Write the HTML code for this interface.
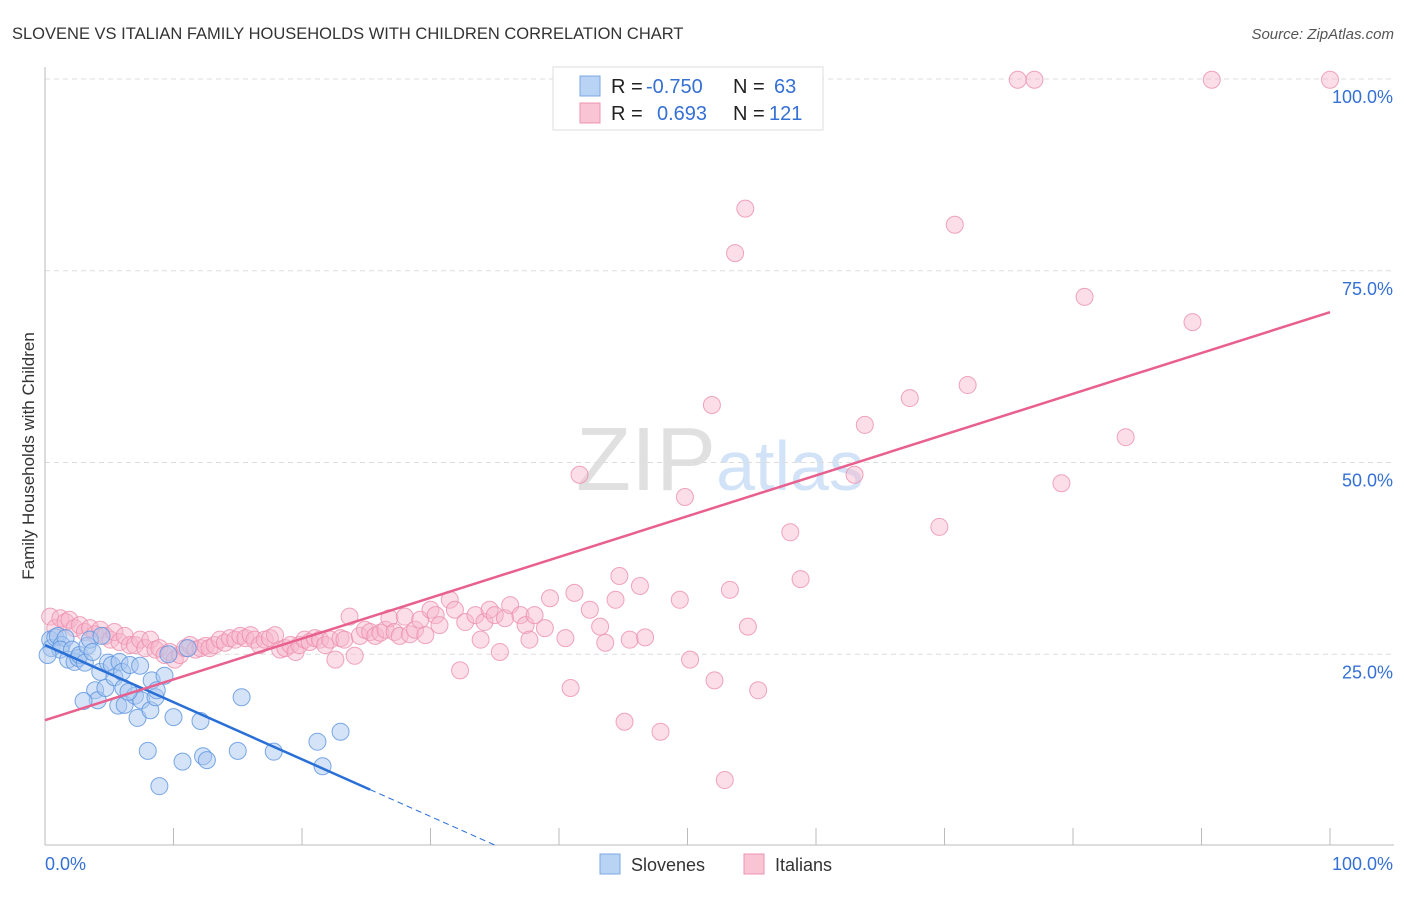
<!DOCTYPE html>
<html><head><meta charset="utf-8"><style>
body{margin:0;background:#fff;font-family:"Liberation Sans",sans-serif;}
svg text{font-family:"Liberation Sans",sans-serif;}
</style></head><body>
<svg id="chart" width="1406" height="892" xmlns="http://www.w3.org/2000/svg">
<text x="12" y="39" font-size="16.5" fill="#333">SLOVENE VS ITALIAN FAMILY HOUSEHOLDS WITH CHILDREN CORRELATION CHART</text>
<text x="1394" y="39" font-size="15" fill="#555" text-anchor="end" font-style="italic">Source: ZipAtlas.com</text>
<text x="720" y="490" font-size="90" text-anchor="middle" fill="#000" fill-opacity="0.12" font-family="Liberation Serif">ZIP<tspan fill="#7fb0ea" fill-opacity="0.35" font-family="Liberation Sans" font-size="70">atlas</tspan></text>
<g id="grid"></g>
<g id="axes"></g>
<g id="marks"></g>
<text transform="translate(34,456) rotate(-90)" font-size="17" fill="#333" text-anchor="middle">Family Households with Children</text>
<g>
<rect x="553" y="67" width="270" height="63" fill="#fff" stroke="#ddd"/>
<rect x="580" y="76" width="20" height="20" fill="#b9d3f4" stroke="#7aa7e6"/>
<rect x="580" y="103" width="20" height="20" fill="#f9c4d4" stroke="#ec94b0"/>
<text x="611" y="93" font-size="20" fill="#222">R = <tspan fill="#3570d4" x="646">-0.750</tspan><tspan x="733" fill="#222">N = </tspan><tspan x="774" fill="#3570d4">63</tspan></text>
<text x="611" y="120" font-size="20" fill="#222">R = <tspan fill="#3570d4" x="657">0.693</tspan><tspan x="733" fill="#222">N = </tspan><tspan x="769" fill="#3570d4">121</tspan></text>
</g>
<g>
<rect x="600" y="854" width="20" height="20" fill="#b9d3f4" stroke="#7aa7e6"/>
<text x="631" y="871" font-size="18" fill="#333">Slovenes</text>
<rect x="744" y="854" width="20" height="20" fill="#f9c4d4" stroke="#ec94b0"/>
<text x="775" y="871" font-size="18" fill="#333">Italians</text>
</g>
</svg>
<script>
const blueX=[0.4,0.5,0.8,1.0,1.3,1.6,1.2,1.8,2.1,2.3,2.6,2.7,3.1,3.3,3.5,3.7,3.9,4.1,4.3,4.4,4.7,4.9,5.2,5.4,5.7,5.8,6.0,6.1,6.2,6.6,7.0,7.2,7.4,7.5,8.0,8.2,8.3,8.6,8.7,9.3,9.6,10.0,10.7,11.1,12.1,12.3,12.6,15.0,15.3,17.8,21.2,21.6,23.0,8.9,3.0,6.5,0.2];
const blueY=[26.9,25.8,27.2,27.4,26.2,27.1,25.6,24.3,25.6,24.0,24.5,24.9,23.9,26.1,26.9,25.3,20.3,19.0,22.7,27.4,20.6,23.9,23.6,22.0,18.3,24.0,22.7,20.6,18.4,23.6,19.6,16.7,23.5,19.0,12.4,17.7,21.6,19.4,20.3,22.2,25.0,16.8,11.0,25.8,16.3,11.7,11.2,12.4,19.4,12.3,13.6,10.4,14.9,7.8,18.9,20.1,24.9];
const pinkX=[0.4,0.8,1.2,1.6,1.9,2.3,2.7,3.1,3.5,3.9,4.3,4.7,5.1,5.4,5.8,6.2,6.6,7.0,7.4,7.8,8.2,8.6,8.9,9.3,9.7,10.1,10.5,10.9,11.3,11.7,12.1,12.5,12.8,13.2,13.6,14.0,14.4,14.8,15.2,15.6,16.0,16.3,16.7,17.1,17.5,17.9,18.3,18.7,19.1,19.5,19.8,20.2,20.6,21.0,21.4,21.8,22.2,22.6,23.0,23.3,23.7,24.1,24.5,24.9,25.3,25.7,26.1,26.5,26.8,27.2,27.6,28.0,28.4,28.8,29.2,29.6,30.0,30.4,30.7,31.5,31.9,32.3,32.7,33.5,33.9,34.2,34.6,35.0,35.4,35.8,36.2,37.0,37.4,37.7,38.1,38.9,39.3,40.5,40.9,41.2,41.6,42.4,43.2,43.6,44.4,44.7,45.1,45.5,46.3,46.7,47.9,49.4,49.8,50.2,51.9,52.1,52.9,53.3,53.7,54.5,54.7,55.5,58.0,58.8,63.0,63.8,67.3,69.6,70.8,71.8,75.7,77.0,79.1,80.9,84.1,89.3,90.8,100];
const pinkY=[29.9,28.4,29.7,29.2,29.5,28.4,28.8,27.9,28.4,27.6,28.2,27.4,26.9,27.9,26.6,27.4,26.2,26.2,26.9,25.8,26.9,25.6,25.8,24.9,25.3,24.3,24.9,25.8,26.2,25.6,25.8,26.1,25.8,26.2,26.9,26.5,27.1,26.9,27.4,27.1,27.5,26.9,26.2,26.9,27.1,27.5,25.6,25.8,26.2,25.3,26.2,26.9,26.6,27.1,26.9,26.2,26.9,24.3,27.1,26.9,29.9,24.8,27.4,28.2,27.9,27.4,27.8,28.2,29.7,27.9,27.4,29.9,27.6,28.2,29.5,27.5,30.8,30.1,28.8,32.1,30.8,22.9,29.2,30.1,26.9,29.2,30.8,30.1,25.3,29.7,31.4,30.1,28.8,26.9,30.1,28.4,32.3,27.1,20.6,33.0,48.4,30.8,28.6,26.5,32.1,35.2,16.2,26.9,33.9,27.2,14.9,32.1,45.5,24.3,57.5,21.6,8.6,33.4,77.3,83.1,28.6,20.3,40.9,34.8,48.4,54.9,58.4,41.6,81.0,60.1,99.9,99.9,47.3,71.6,53.3,68.3,99.9,99.9];
const blueTrend=[26.2,-0.745];
const pinkTrend=[16.4,0.532];
const xTicks=[0,10,20,30,40,50,60,70,80,90,100];
const yTicks=[25,50,75,100];
const yTickLabels=["25.0%","50.0%","75.0%","100.0%"];

const NS="http://www.w3.org/2000/svg";
const X0=45,X1=1330,Y0=846,Y1=79;
const sx=v=>X0+(X1-X0)*v/100;
const sy=v=>Y0-(Y0-Y1)*v/100;
function mk(tag,attrs,parent){const e=document.createElementNS(NS,tag);for(const k in attrs)e.setAttribute(k,attrs[k]);parent.appendChild(e);return e;}
const grid=document.getElementById('grid'),axes=document.getElementById('axes'),marks=document.getElementById('marks');
yTicks.forEach((t,i)=>{
  const l=mk('line',{x1:X0,x2:1394,y1:sy(t),y2:sy(t),stroke:'#ddd','stroke-dasharray':'5,4'},grid);
  
  
  const tx=mk('text',{x:1393,y:sy(t)+24,'font-size':18,fill:'#3570d4','text-anchor':'end'},axes);
  tx.textContent=yTickLabels[i];
  
  
});
const ya=mk('line',{x1:X0,x2:X0,y1:67,y2:845,stroke:'#bbb'},axes);


const xa=mk('line',{x1:X0,x2:1394,y1:845,y2:845,stroke:'#bbb'},axes);


xTicks.forEach(t=>{
  const l=mk('line',{x1:sx(t),x2:sx(t),y1:828,y2:845,stroke:'#bbb'},axes);
  
  
});
const xl0=mk('text',{x:45,y:870,'font-size':18,fill:'#3570d4'},axes);xl0.textContent='0.0%';


const xl1=mk('text',{x:1393,y:870,'font-size':18,fill:'#3570d4','text-anchor':'end'},axes);xl1.textContent='100.0%';



pinkX.forEach((x,i)=>{
  const c=mk('circle',{cx:sx(x),cy:sy(pinkY[i]),r:8.5,fill:'#f7b6cb','fill-opacity':0.45,stroke:'#ec8eae','stroke-opacity':0.8,'stroke-width':1},marks);
  
  
});
blueX.forEach((x,i)=>{
  const c=mk('circle',{cx:sx(x),cy:sy(blueY[i]),r:8.5,fill:'#a9c8f0','fill-opacity':0.5,stroke:'#5b93e0','stroke-opacity':0.8,'stroke-width':1},marks);
  
  
});
const bEnd=25.3, bZero=-blueTrend[0]/blueTrend[1];
const bl=mk('line',{x1:sx(0),y1:sy(blueTrend[0]),x2:sx(bEnd),y2:sy(blueTrend[0]+blueTrend[1]*bEnd),stroke:'#2a6fd6','stroke-width':2.5},marks);


const bd=mk('line',{x1:sx(bEnd),y1:sy(blueTrend[0]+blueTrend[1]*bEnd),x2:sx(bZero),y2:sy(0),stroke:'#2a6fd6','stroke-width':1,'stroke-dasharray':'6,4'},marks);


const pl=mk('line',{x1:sx(0),y1:sy(pinkTrend[0]),x2:sx(100),y2:sy(pinkTrend[0]+pinkTrend[1]*100),stroke:'#e8608e','stroke-width':2.5},marks);


</script>
</body></html>
